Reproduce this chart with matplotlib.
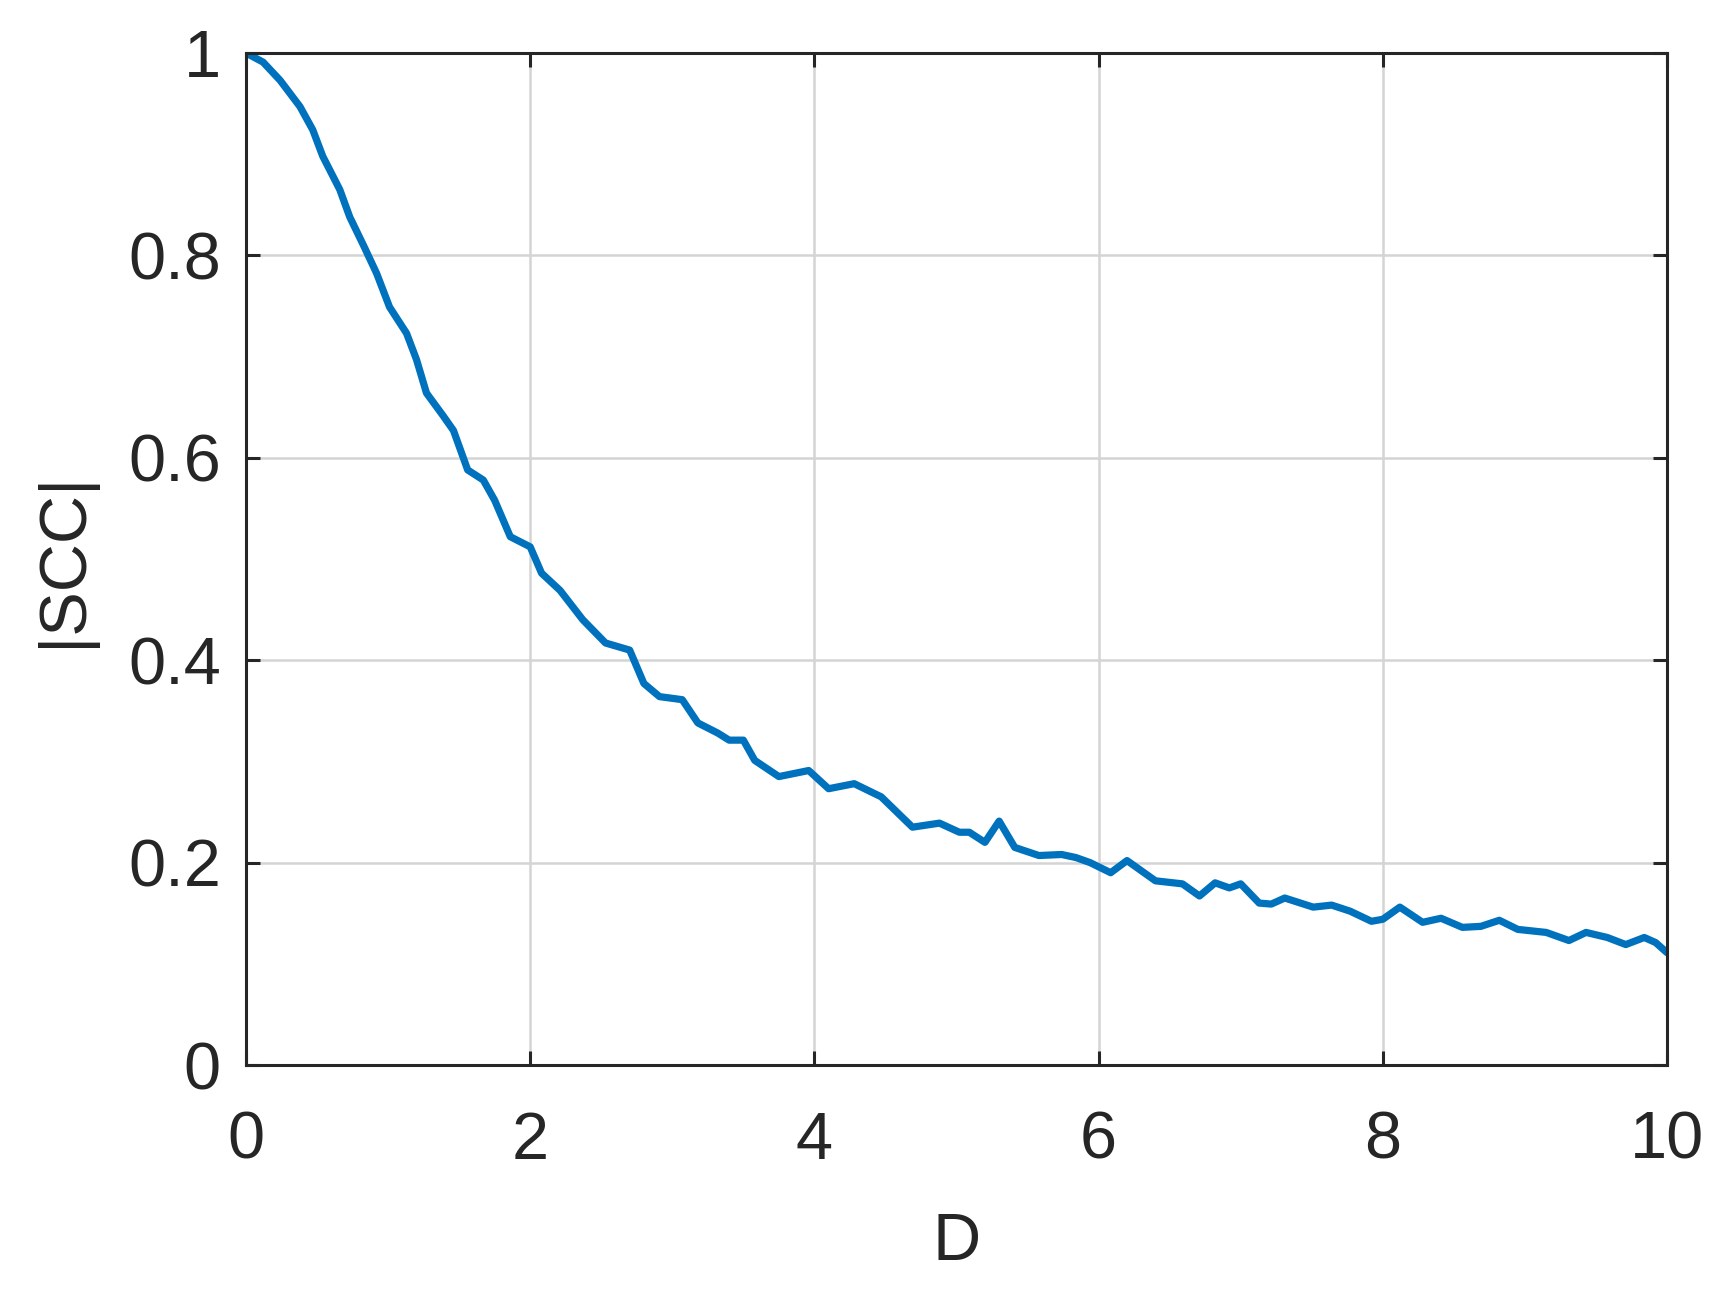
import matplotlib.pyplot as plt

d_vals = [0.00, 0.12, 0.24, 0.38, 0.47, 0.54, 0.66, 0.73, 0.83, 0.92,
          1.01, 1.13, 1.20, 1.27, 1.39, 1.46, 1.56, 1.67, 1.75, 1.86,
          2.00, 2.08, 2.21, 2.37, 2.53, 2.70, 2.80, 2.91, 3.07, 3.18,
          3.32, 3.40, 3.50, 3.58, 3.75, 3.96, 4.10, 4.28, 4.47, 4.69,
          4.88, 5.02, 5.09, 5.20, 5.30, 5.41, 5.58, 5.74, 5.84, 5.94,
          6.085, 6.20, 6.40, 6.59, 6.71, 6.82, 6.92, 7.00, 7.13, 7.215,
          7.31, 7.51, 7.64, 7.77, 7.92, 8.00, 8.12, 8.28, 8.41, 8.56,
          8.69, 8.82, 8.95, 9.15, 9.31, 9.43, 9.58, 9.71, 9.84, 9.92, 10.0]
scc_vals = [1.000, 0.991, 0.973, 0.947, 0.924, 0.898, 0.865, 0.838, 0.809, 0.782,
            0.749, 0.723, 0.697, 0.664, 0.641, 0.627, 0.588, 0.578, 0.558, 0.522,
            0.512, 0.486, 0.469, 0.440, 0.417, 0.410, 0.377, 0.364, 0.361, 0.338,
            0.328, 0.321, 0.321, 0.301, 0.285, 0.291, 0.273, 0.278, 0.265, 0.235,
            0.239, 0.230, 0.230, 0.220, 0.241, 0.215, 0.207, 0.208, 0.205, 0.200,
            0.190, 0.202, 0.182, 0.179, 0.167, 0.180, 0.175, 0.179, 0.160, 0.159,
            0.165, 0.156, 0.158, 0.152, 0.142, 0.144, 0.156, 0.141, 0.145, 0.136,
            0.137, 0.143, 0.134, 0.131, 0.123, 0.131, 0.126, 0.119, 0.126, 0.121, 0.111]

x_ticks = [0, 2, 4, 6, 8, 10]
y_ticks = [0, 0.2, 0.4, 0.6, 0.8, 1]
y_tick_labels = ["0", "0.2", "0.4", "0.6", "0.8", "1"]

plt.rcParams["font.family"] = ["Liberation Sans", "DejaVu Sans"]

fig = plt.figure(figsize=(17.22, 12.95), dpi=100)
ax = fig.add_axes([246 / 1722, 1 - 1065 / 1295, (1667 - 246) / 1722, (1065 - 53) / 1295])

ax.plot(d_vals, scc_vals, color="#0072BD", linewidth=5.2,
        solid_joinstyle="round", solid_capstyle="round")

ax.set_xlim(0, 10)
ax.set_ylim(0, 1)
ax.set_xticks(x_ticks)
ax.set_yticks(y_ticks)
ax.set_yticklabels(y_tick_labels)
ax.grid(True, color="#d4d4d4", linewidth=1.8)
ax.set_axisbelow(True)

for s in ax.spines.values():
    s.set_linewidth(2.2)
    s.set_color("#262626")

ax.tick_params(axis="both", direction="in", length=10, width=2.2, color="#262626",
               labelsize=48, labelcolor="#262626", top=True, right=True)
ax.tick_params(axis="x", pad=33)
ax.tick_params(axis="y", pad=18)

ax.set_xlabel("D", fontsize=48, color="#262626", labelpad=28)
ax.set_ylabel("|SCC|", fontsize=48, color="#262626", labelpad=24)

fig.savefig("out.png", dpi=100)
